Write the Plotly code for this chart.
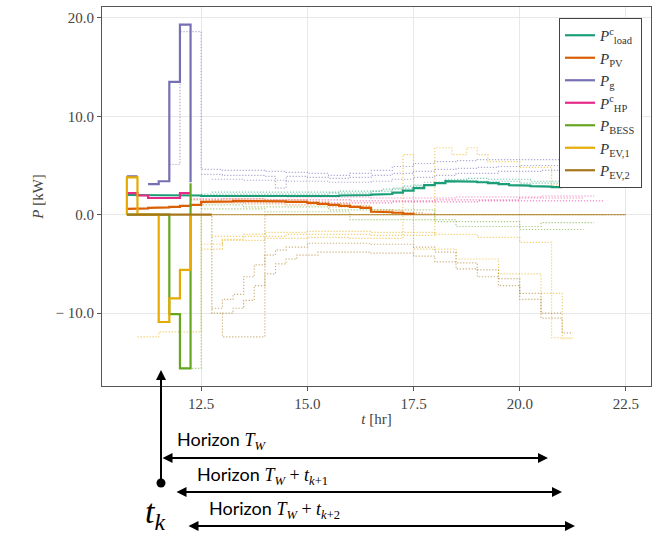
import plotly.graph_objects as go

# ---------------- data ----------------
DT = 0.25
T0 = 10.75

# current (solid) trajectories, 15-min steps from 10.75 h
LOAD = [2.0, 2.0, 2.0, 1.95, 1.95, 1.95, 1.95, 1.9, 1.9, 1.9, 1.9, 1.9, 1.9, 1.85,
        1.85, 1.85, 1.85, 1.85, 1.9, 1.9, 1.95, 1.95, 2.0, 2.05, 2.1, 2.25, 2.45,
        2.7, 3.0, 3.2, 3.4, 3.4, 3.35, 3.3, 3.2, 3.1, 3.0, 2.95, 2.9, 2.85, 2.8]
PV = [0.6, 0.65, 0.7, 0.75, 0.8, 0.9, 1.0, 1.3, 1.3, 1.35, 1.4, 1.4, 1.4, 1.4,
      1.35, 1.3, 1.3, 1.2, 1.1, 1.0, 0.9, 0.8, 0.7, 0.3, 0.25, 0.2, 0.1]
PG = [3.9, None, 3.1, 3.4, 13.5, 19.3]
PG_END = 3.3
HP = [2.2, 1.95, 1.7, 1.7, 1.7, 2.2]
BESS = [0.0, 0.0, 0.0, 0.0, -10.1, -15.6]
BESS_END = 3.2
EV1 = [3.8, 0.0, 0.0, -10.9, -8.5, -5.6]
EV1_START, EV1_END = 0.0, 0.0
EV2 = [0.0] * 8

# previous / following horizons (dotted): (knots [h], values [kW])
G_DOT = [
    ([11.75, 12.0, 12.5, 13.0, 13.5, 14.0, 14.25, 14.5, 15.0, 15.5, 16.0, 16.5, 17.0,
      17.5, 18.0, 18.5, 19.0, 20.0, 21.0, 22.0],
     [5.1, 18.6, 4.6, 4.5, 4.5, 4.4, 4.4, 4.3, 4.2, 4.0, 4.2, 4.5, 4.9, 5.2, 5.4,
      5.5, 5.6, 5.6, 5.6]),
    ([12.5, 13.0, 14.0, 14.25, 14.5, 15.0, 15.5, 16.0, 16.5, 17.0, 17.5, 18.0, 18.5,
      19.0, 19.5, 20.0, 21.0, 21.5],
     [4.1, 4.0, 3.9, 2.7, 3.9, 3.8, 3.7, 3.8, 4.0, 4.2, 4.4, 4.6, 4.7, 4.8, 4.9,
      5.0, 5.1]),
    ([12.75, 13.5, 14.5, 15.5, 16.5, 17.0, 17.5, 18.0, 18.5, 19.5, 20.5, 21.75],
     [3.6, 3.5, 3.4, 3.3, 3.4, 3.6, 3.8, 4.0, 4.2, 4.4, 4.5]),
]
LOAD_DOT = [
    ([12.5, 15.5, 16.5, 17.0, 17.5, 18.0, 18.5, 19.0, 20.0, 21.25],
     [2.1, 2.2, 2.4, 2.7, 3.0, 3.3, 3.5, 3.4, 3.2]),
    ([12.75, 15.75, 16.75, 17.25, 17.75, 18.25, 18.75, 19.25, 20.25, 21.5],
     [2.3, 2.4, 2.6, 2.9, 3.3, 3.6, 3.7, 3.6, 3.4]),
]
HP_DOT = [
    ([12.25, 14.0, 16.0, 18.0, 20.0, 21.5], [1.6, 1.5, 1.4, 1.5, 1.7]),
    ([12.5, 14.5, 16.5, 18.5, 20.5, 21.75], [1.9, 1.8, 1.7, 1.8, 1.9]),
    ([12.75, 15.0, 17.0, 19.0, 22.0], [1.3, 1.2, 1.3, 1.4]),
]
PV_DOT = [
    ([12.25, 13.0, 14.0, 15.0, 15.5, 16.0, 16.5, 17.0, 17.75],
     [1.5, 1.6, 1.5, 1.3, 1.1, 0.9, 0.5, 0.2]),
    ([12.5, 13.5, 14.5, 15.5, 16.5, 17.25, 18.0], [1.2, 1.1, 1.0, 0.8, 0.4, 0.1]),
]
BESS_DOT = [
    ([12.0, 12.5, 13.5, 15.5, 18.0, 20.0, 21.5], [-15.6, 1.0, 0.8, 0.5, -0.7, -1.5]),
    ([12.5, 14.0, 16.0, 18.5, 20.5, 21.75], [0.6, 0.3, -0.5, -1.2, -0.8]),
]
EV1_DOT = [
    ([11.0, 11.5, 12.5, 22.0], [-12.4, -11.9, 0.0]),
    ([12.5, 13.0, 14.0, 15.0, 16.0, 17.25, 17.5, 18.5, 19.5, 20.5, 21.0, 21.25],
     [-3.0, -2.6, -2.4, -2.3, -2.4, 6.1, -3.5, -4.5, -6.0, -8.0, -12.6]),
    ([12.75, 14.5, 16.5, 18.0, 18.4, 18.75, 19.0, 19.25, 20.0, 20.75, 21.0],
     [-2.2, -2.0, -2.1, 6.8, 6.1, 6.8, 6.1, 5.4, 4.8, 3.0]),
    ([12.5, 13.0, 13.5, 14.0, 15.0, 16.5, 18.0, 19.0, 20.0, 20.75, 21.25],
     [-3.5, -2.5, -2.0, -1.8, -1.7, -1.8, -2.0, -2.3, -2.8, -12.5]),
]
EV2_DOT = [
    ([12.5, 12.75, 13.0, 14.0, 22.5], [0.0, -10.0, -12.4, 0.0]),
    ([12.75, 13.0, 13.25, 13.5, 13.75, 14.0, 14.25, 14.5, 15.0, 16.5, 17.5, 18.0,
      18.5, 19.0, 19.5, 20.0, 20.5, 21.0],
     [-9.5, -8.6, -8.1, -6.3, -5.1, -4.1, -3.6, -3.3, -2.9, -3.0, -3.3, -3.8, -4.9,
      -5.6, -6.5, -8.0, -10.0]),
    ([13.0, 13.25, 13.5, 13.75, 14.0, 14.25, 14.5, 14.75, 15.25, 16.5, 17.5, 18.0,
      18.5, 19.0, 19.5, 20.0, 20.5, 21.0, 21.25],
     [-10.0, -9.5, -8.7, -7.2, -6.0, -5.0, -4.5, -4.1, -3.8, -3.9, -4.2, -4.8, -5.5,
      -6.3, -7.2, -8.6, -10.5, -12.0]),
]
# later horizons that keep EV2 idle (zero line until the end of the window)
EV2_ZERO = ([12.75, 22.5], [0.0])

X_TICKS = [12.5, 15.0, 17.5, 20.0, 22.5]
Y_TICKS = [-10.0, 0.0, 10.0, 20.0]
Y_TICKTEXT = ["\u2212 10.0", "0.0", "10.0", "20.0"]

NAMES = {
    "load": "<i>P</i><sup>c</sup><sub>load</sub>",
    "pv": "<i>P</i><sub>PV</sub>",
    "g": "<i>P</i><sub>g</sub>",
    "hp": "<i>P</i><sup>c</sup><sub>HP</sub>",
    "bess": "<i>P</i><sub>BESS</sub>",
    "ev1": "<i>P</i><sub>EV,1</sub>",
    "ev2": "<i>P</i><sub>EV,2</sub>",
}
COL = {"load": "#1b9e77", "pv": "#d95f02", "g": "#7570b3", "hp": "#e7298a",
       "bess": "#66a61e", "ev1": "#e6ab02", "ev2": "#a6761d"}


def knots(n):
    return [T0 + DT * i for i in range(n + 1)]


def step_xy(ks, vals, start=None, end=None):
    xs, ys = [], []
    if start is not None:
        xs.append(ks[0]); ys.append(start)
    for i, v in enumerate(vals):
        xs += [ks[i], ks[i + 1]]
        ys += [v, v]
    if end is not None:
        xs.append(ks[-1]); ys.append(end)
    return xs, ys


def rgba(hexc, a):
    h = hexc.lstrip("#")
    return "rgba(%d,%d,%d,%.2f)" % (int(h[0:2], 16), int(h[2:4], 16), int(h[4:6], 16), a)


fig = go.Figure()

# dotted horizons
for key, group in [("g", G_DOT), ("load", LOAD_DOT), ("hp", HP_DOT), ("pv", PV_DOT),
                   ("bess", BESS_DOT), ("ev1", EV1_DOT), ("ev2", EV2_DOT)]:
    for ks, vals in group:
        xs, ys = step_xy(ks, vals)
        fig.add_trace(go.Scatter(x=xs, y=ys, mode="lines", showlegend=False,
                                 hoverinfo="skip",
                                 line=dict(color=rgba(COL[key], 0.55), width=1.2,
                                           dash="1.3px,1.7px")))

xs, ys = step_xy(*EV2_ZERO)
fig.add_trace(go.Scatter(x=xs, y=ys, mode="lines", showlegend=False, hoverinfo="skip",
                         line=dict(color=rgba(COL["ev2"], 0.6), width=1.3)))

# solid current trajectories
solid = [
    ("load", step_xy(knots(len(LOAD)), LOAD)),
    ("pv", step_xy(knots(len(PV)), PV, end=0.0)),
    ("g", step_xy(knots(len(PG)), PG, end=PG_END)),
    ("hp", step_xy(knots(len(HP)), HP)),
    ("bess", step_xy(knots(len(BESS)), BESS, end=BESS_END)),
    ("ev1", step_xy(knots(len(EV1)), EV1, start=EV1_START, end=EV1_END)),
    ("ev2", step_xy(knots(len(EV2)), EV2)),
]
for key, (xs, ys) in solid:
    fig.add_trace(go.Scatter(x=xs, y=ys, mode="lines", name=NAMES[key],
                             hoverinfo="skip", line=dict(color=COL[key], width=2.2)))

# ---------------- layout ----------------
L, R, TOP, BOT = 102, 651, 7, 386


def pxx(p):
    return (p - L) / (R - L)


def pyy(p):
    return (BOT - p) / (BOT - TOP)


SERIF = "Liberation Serif"
SANS = "Lato"
axis_common = dict(showline=True, mirror=True, linecolor="#555", linewidth=1.2,
                   ticks="outside", ticklen=4, tickwidth=1.2, tickcolor="#555",
                   showgrid=True, gridcolor="#e8e8e8", gridwidth=1, zeroline=False,
                   tickfont=dict(family=SERIF, size=15, color="#444"))

fig.update_layout(
    width=664, height=537,
    margin=dict(l=L, r=664 - R, t=TOP, b=537 - BOT),
    paper_bgcolor="white", plot_bgcolor="white",
    xaxis=dict(range=[10.165, 23.09], tickvals=X_TICKS, tickformat=".1f",
               title=dict(text="<i>t</i> [hr]", standoff=2,
                          font=dict(family=SERIF, size=15, color="#444")),
               **axis_common),
    yaxis=dict(range=[-17.4, 21.1], tickvals=Y_TICKS, ticktext=Y_TICKTEXT,
               title=dict(text="<i>P</i> [kW]", standoff=8,
                          font=dict(family=SERIF, size=15, color="#444")),
               **axis_common),
    legend=dict(x=pxx(559), y=pyy(18), xanchor="left", yanchor="top",
                bgcolor="white", bordercolor="#444", borderwidth=1,
                font=dict(family=SERIF, size=15, color="#333"),
                itemwidth=30, tracegroupgap=0),
    showlegend=True,
)

ann = []
# vertical t_k arrow
ann.append(dict(x=pxx(161), y=pyy(370), ax=0, ay=483 - 370, xref="paper", yref="paper",
                showarrow=True, arrowhead=2, arrowsize=1, arrowwidth=2,
                arrowcolor="black", text="", standoff=0))
# horizon arrows
for (x0, x1, yy) in [(161, 548, 458), (175, 562, 492), (187, 575, 526)]:
    ann.append(dict(x=pxx(x1), y=pyy(yy), ax=-(x1 - x0), ay=0, xref="paper",
                    yref="paper", showarrow=True, arrowhead=2, arrowside="end+start",
                    arrowsize=1, arrowwidth=2, arrowcolor="black", text="",
                    standoff=0, startstandoff=0))
ser = "<span style=\"font-family:'%s'\">" % SERIF
texts = [
    (175, 440, "Horizon " + ser + "<i>T</i><sub><i>W</i></sub></span>"),
    (195, 475, "Horizon " + ser + "<i>T</i><sub><i>W</i></sub> + <i>t</i><sub><i>k</i>+1</sub></span>"),
    (207, 509, "Horizon " + ser + "<i>T</i><sub><i>W</i></sub> + <i>t</i><sub><i>k</i>+2</sub></span>"),
]
for (x0, y0, t) in texts:
    ann.append(dict(x=pxx(x0), y=pyy(y0), xref="paper", yref="paper", text=t,
                    showarrow=False, xanchor="left", yanchor="middle",
                    font=dict(family=SANS, size=18, color="black")))
ann.append(dict(x=pxx(143), y=pyy(514), xref="paper", yref="paper",
                text="<i>t</i><sub><i>k</i></sub>", showarrow=False,
                xanchor="left", yanchor="middle",
                font=dict(family=SERIF, size=34, color="black")))
fig.update_layout(annotations=ann)

fig.add_shape(type="circle", xref="paper", yref="paper",
              x0=pxx(156.5), x1=pxx(165.5), y0=pyy(487.5), y1=pyy(478.5),
              fillcolor="black", line=dict(color="black", width=0))

fig.write_html("out.html")
